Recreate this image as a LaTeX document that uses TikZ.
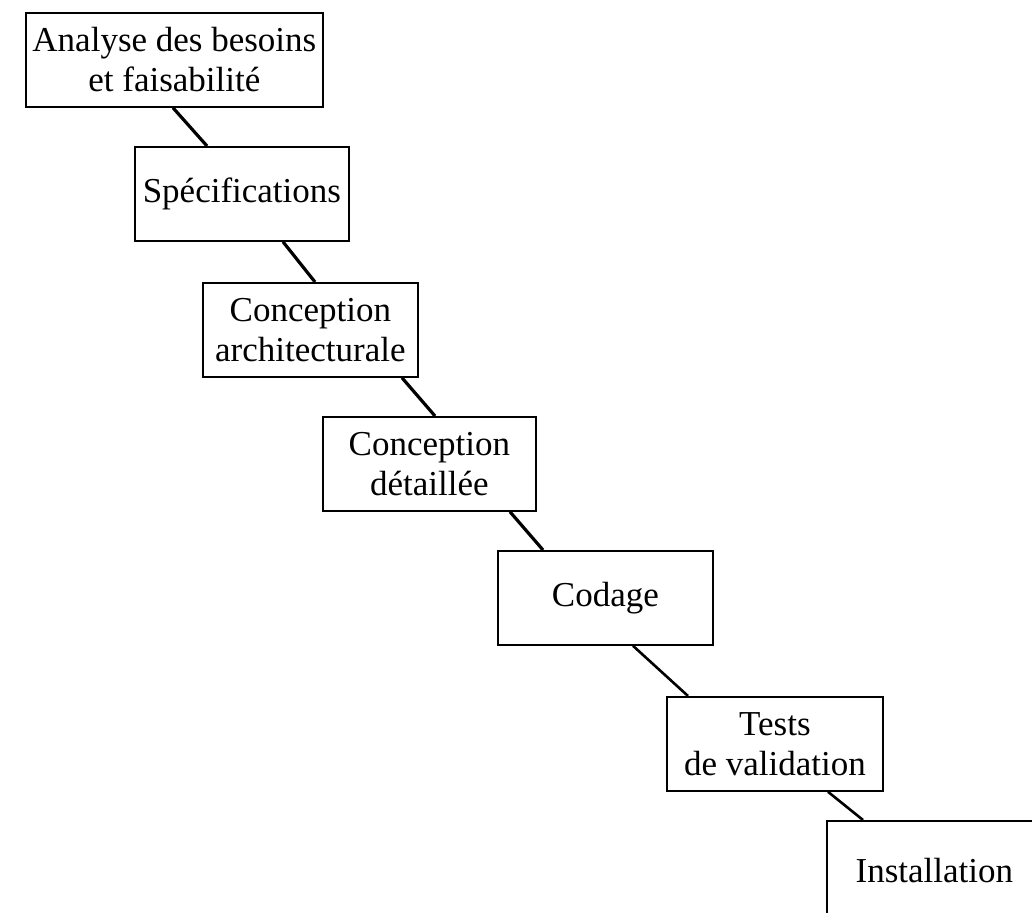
\documentclass[tikz,border=0pt]{standalone}
\usepackage{fontspec}
\setmainfont{Liberation Serif}
\usepackage{tikz}
\usetikzlibrary{positioning}

\begin{document}
\begin{tikzpicture}[
    x=1pt, y=-1pt,
    every node/.style={font=\fontsize{35}{40}\selectfont},
    phase/.style={
        draw, rectangle,
        line width=1.8pt,
        anchor=north west,
        minimum width=215pt,
        minimum height=94pt,
        align=center,
        inner sep=3pt
    },
    link/.style={line width=3.2pt}
]

%% ── Page frame ────────────────────────────────────────
\useasboundingbox (0,0) rectangle (1032,912);
\clip (0,0) rectangle (1032,912);

%% ── Phases ────────────────────────────────────────────
\node[phase, minimum width=297pt] (besoins) at (25,12)
    {Analyse des besoins\\et faisabilité};
\node[phase, minimum width=214pt] (specs) at (134,146) {Spécifications};
\node[phase] (archi) at (202,282) {Conception\\architecturale};
\node[phase, minimum width=213pt] (detail) at (322,416) {Conception\\détaillée};
\node[phase] (codage) at (497,550) {Codage};
\node[phase, minimum width=216pt] (tests) at (666,696) {Tests\\de validation};
\node[phase, minimum height=100pt] (install) at (826,820) {Installation};

%% ── Links between phases ──────────────────────────────
\draw[link] ([xshift=148pt]besoins.south west) -- ([xshift=73pt]specs.north west);
\draw[link] ([xshift=149pt]specs.south west) -- ([xshift=113pt]archi.north west);
\draw[link] ([xshift=200pt]archi.south west) -- ([xshift=113pt]detail.north west);
\draw[link] ([xshift=188pt]detail.south west) -- ([xshift=46pt]codage.north west);
\draw[link, line width=2.6pt] ([xshift=136pt]codage.south west) -- ([xshift=22pt]tests.north west);
\draw[link, line width=2.6pt] ([xshift=162pt]tests.south west) -- ([xshift=37pt]install.north west);

\end{tikzpicture}
\end{document}
